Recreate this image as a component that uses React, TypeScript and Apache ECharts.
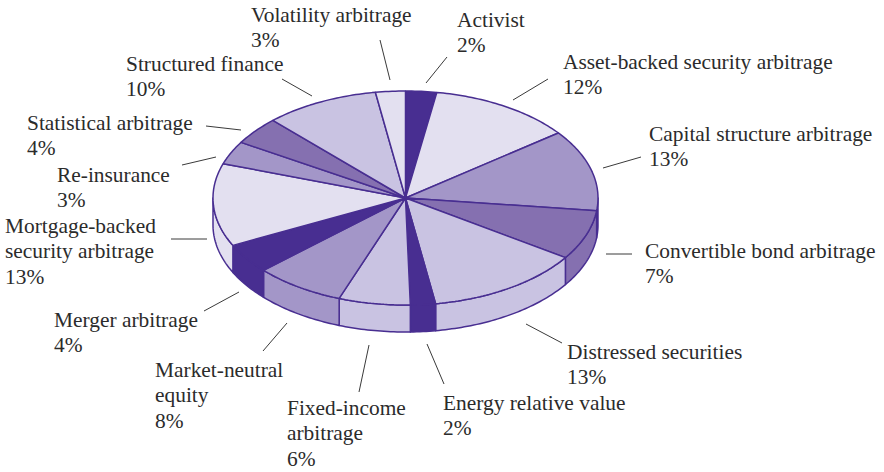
import React, { useEffect, useRef } from "react";
import * as echarts from "echarts";

// Slice names and the percentages printed on the chart
const categories = [
  "Activist",
  "Asset-backed security arbitrage",
  "Capital structure arbitrage",
  "Convertible bond arbitrage",
  "Distressed securities",
  "Energy relative value",
  "Fixed-income arbitrage",
  "Market-neutral equity",
  "Merger arbitrage",
  "Mortgage-backed security arbitrage",
  "Re-insurance",
  "Statistical arbitrage",
  "Structured finance",
  "Volatility arbitrage",
];
const printedPercents = [2, 12, 13, 7, 13, 2, 6, 8, 4, 13, 3, 4, 10, 3];
// Slice sizes as measured on the drawing (they differ slightly from the rounded printed figures)
const drawnShares = [2.6, 12, 12.3, 7.5, 13.1, 2.1, 6, 7.6, 4.5, 12.5, 3.5, 4.2, 9.6, 2.5];

// Name line breaks, as printed
const labelLines = [
  ["Activist"],
  ["Asset-backed security arbitrage"],
  ["Capital structure arbitrage"],
  ["Convertible bond arbitrage"],
  ["Distressed securities"],
  ["Energy relative value"],
  ["Fixed-income", "arbitrage"],
  ["Market-neutral", "equity"],
  ["Merger arbitrage"],
  ["Mortgage-backed", "security arbitrage"],
  ["Re-insurance"],
  ["Statistical arbitrage"],
  ["Structured finance"],
  ["Volatility arbitrage"],
];

// Styling
const DARK = "#482e91";
const MID_DARK = "#8570b0";
const MID = "#a396c8";
const LIGHT = "#c9c3e2";
const LIGHTEST = "#e3e0f0";
const sliceColors = [DARK, LIGHTEST, MID, MID_DARK, LIGHT, DARK, LIGHT, MID, DARK, LIGHTEST, MID, MID_DARK, LIGHT, LIGHTEST];

// Layout
const CX = 405.5;
const CY = 198;
const RX = 192.5;
const RY = 107;
const DEPTH = 27;
const FONT_SIZE = 21.4;
const LINE_HEIGHT = 25.5;
const TEXT_COLOR = "#2b2b2b";
const LEADER_COLOR = "#3a3a3a";
// x and first-line baseline of each label
const labelAnchors = [
  [457, 27], [563, 69], [649, 141], [645, 258], [567, 359], [443, 410], [287, 415],
  [155, 377], [54, 327], [5, 233], [57, 182], [27, 130], [126, 71], [251, 22],
];
// Leader lines x1, y1, x2, y2
const leaders = [
  [447, 57, 426, 83], [548, 79, 513, 100], [641, 157, 603, 168], [606, 254, 632, 254],
  [526, 324, 562, 343], [427, 344, 444, 384], [369, 345, 359, 392], [287, 323, 263, 351],
  [239, 292, 204, 311], [171, 239, 207, 239], [182, 165, 216, 157], [206, 126, 241, 130],
  [282, 79, 312, 96], [380, 40, 390, 80],
];

const total = drawnShares.reduce((a, b) => a + b, 0);
let running = 0;
const sliceRanges = drawnShares.map((v) => {
  const start = running;
  running += v;
  return [start, running];
});

const rim = (deg: number, drop = 0): number[] => {
  const t = (deg * Math.PI) / 180;
  return [CX + RX * Math.sin(t), CY - RY * Math.cos(t) + drop];
};

const arcPoints = (a: number, b: number, drop = 0): number[][] => {
  const pts: number[][] = [];
  const steps = Math.max(2, Math.ceil(Math.abs(b - a)));
  for (let i = 0; i <= steps; i++) pts.push(rim(a + ((b - a) * i) / steps, drop));
  return pts;
};

const renderSlice = (params: any, api: any) => {
  const a = (api.value(0) / total) * 360;
  const b = (api.value(1) / total) * 360;
  const fill = sliceColors[params.dataIndex];
  const children: any[] = [];
  const sa = Math.max(a, 90);
  const sb = Math.min(b, 270);
  if (sb > sa) {
    const upper = arcPoints(sa, sb);
    const lower = arcPoints(sb, sa, DEPTH);
    children.push({
      type: "polygon",
      shape: { points: [...upper, ...lower] },
      style: { fill, stroke: DARK, lineWidth: 1.5, lineJoin: "round" },
    });
  }
  children.push({
    type: "polygon",
    shape: { points: [[CX, CY], ...arcPoints(a, b)] },
    style: { fill, stroke: DARK, lineWidth: 1.5, lineJoin: "bevel" },
  });
  return { type: "group", children };
};

export default function App() {
  const ref = useRef<HTMLDivElement>(null);
  useEffect(() => {
    document.body.style.margin = "0";
    const chart = echarts.init(ref.current!, undefined, { renderer: "svg" });
    const labelElements = categories.map((name, i) => ({
      type: "text",
      silent: true,
      x: labelAnchors[i][0],
      y: labelAnchors[i][1] - 20,
      style: {
        text: [...labelLines[i], `${printedPercents[i]}%`].join("\n"),
        font: `${FONT_SIZE}px "Liberation Serif", "Times New Roman", serif`,
        fill: TEXT_COLOR,
        lineHeight: LINE_HEIGHT,
        align: "left",
        verticalAlign: "top",
      },
    }));
    const leaderElements = leaders.map(([x1, y1, x2, y2]) => ({
      type: "line",
      silent: true,
      shape: { x1, y1, x2, y2 },
      style: { stroke: LEADER_COLOR, lineWidth: 1 },
    }));
    chart.setOption({
      animation: false,
      backgroundColor: "#ffffff",
      series: [
        {
          type: "custom",
          coordinateSystem: "none",
          name: "Hedge fund strategies",
          silent: true,
          renderItem: renderSlice,
          data: sliceRanges.map((r, i) => ({ name: categories[i], value: r })),
        },
      ],
      graphic: { elements: [...leaderElements, ...labelElements] },
    });
    return () => chart.dispose();
  }, []);
  return <div ref={ref} style={{ position: "absolute", left: 0, top: 0, width: 884, height: 472 }} />;
}
